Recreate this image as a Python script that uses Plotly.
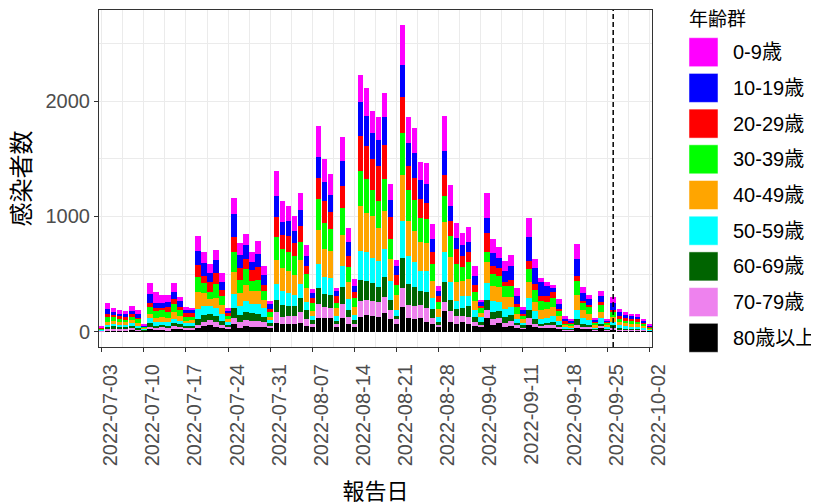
import pandas as pd
import plotly.graph_objects as go

# ---------------- data ----------------
dates = pd.date_range("2022-07-03", periods=92, freq="D")

groups = ["0-9歳", "10-19歳", "20-29歳", "30-39歳", "40-49歳",
          "50-59歳", "60-69歳", "70-79歳", "80歳以上"]
colors = ["#FF00FF", "#0000FF", "#FF0000", "#00FF00", "#FFA500",
          "#00FFFF", "#006400", "#EE82EE", "#000000"]

age0_9 = [5, 57, 34, 34, 26, 40, 34, 10, 100, 89,
          66, 57, 75, 40, 23, 9, 129, 95, 72, 86,
          75, 14, 138, 103, 101, 92, 115, 72, 32, 216,
          181, 132, 126, 144, 101, 37, 267, 195, 181, 29,
          210, 118, 57, 230, 239, 190, 195, 201, 138, 49,
          345, 230, 216, 149, 178, 124, 43, 307, 175, 124,
          106, 132, 86, 20, 216, 121, 92, 80, 95, 63,
          26, 165, 86, 37, 34, 29, 43, 23, 14, 129,
          49, 37, 11, 43, 11, 55, 29, 23, 17, 14,
          11, 6]
age10_19 = [5, 43, 26, 20, 26, 29, 34, 8, 78, 43,
            43, 49, 57, 46, 29, 37, 121, 115, 80, 115,
            72, 29, 195, 115, 115, 72, 115, 92, 40, 181,
            115, 124, 103, 141, 83, 40, 184, 164, 149, 43,
            210, 121, 57, 296, 259, 230, 230, 244, 149, 78,
            273, 195, 216, 172, 167, 115, 43, 201, 135, 101,
            95, 86, 80, 29, 135, 115, 95, 101, 124, 72,
            29, 210, 135, 115, 86, 35, 43, 23, 17, 144,
            66, 52, 20, 52, 14, 57, 37, 32, 29, 26,
            17, 9]
age20_29 = [6, 29, 23, 17, 17, 23, 9, 6, 32, 29,
            23, 37, 49, 29, 29, 29, 101, 60, 86, 100,
            49, 17, 135, 101, 92, 95, 115, 52, 29, 172,
            121, 144, 115, 138, 66, 43, 181, 193, 144, 57,
            198, 95, 52, 302, 287, 270, 302, 296, 190, 86,
            316, 213, 187, 158, 135, 106, 52, 181, 129, 129,
            92, 86, 57, 23, 167, 72, 63, 29, 49, 29,
            20, 66, 49, 49, 52, 52, 23, 14, 11, 43,
            20, 20, 11, 29, 11, 23, 20, 17, 14, 17,
            11, 6]
age30_39 = [6, 37, 29, 29, 23, 29, 34, 9, 66, 57,
            63, 52, 66, 55, 34, 29, 138, 90, 63, 115,
            80, 29, 172, 112, 132, 86, 95, 72, 37, 201,
            167, 164, 161, 158, 124, 72, 267, 224, 187, 46,
            233, 129, 78, 307, 293, 224, 230, 279, 178, 89,
            359, 267, 273, 210, 210, 144, 63, 230, 178, 158,
            124, 149, 78, 40, 86, 101, 101, 101, 101, 57,
            29, 115, 103, 80, 57, 78, 43, 20, 17, 124,
            66, 57, 20, 57, 17, 43, 29, 26, 26, 23,
            17, 9]
age40_49 = [5, 29, 29, 26, 26, 29, 23, 8, 34, 37,
            37, 37, 63, 37, 23, 29, 144, 110, 60, 86,
            78, 29, 187, 115, 144, 106, 106, 78, 29, 207,
            198, 190, 178, 207, 121, 43, 293, 244, 239, 69,
            270, 149, 66, 388, 339, 368, 287, 325, 187, 126,
            402, 307, 267, 250, 244, 152, 72, 259, 224, 158,
            129, 149, 78, 37, 178, 132, 129, 101, 86, 43,
            32, 138, 86, 72, 80, 78, 40, 14, 14, 126,
            66, 57, 17, 52, 14, 43, 29, 26, 26, 26,
            17, 9]
age50_59 = [5, 20, 20, 17, 17, 20, 17, 7, 40, 34,
            29, 34, 34, 29, 20, 20, 86, 75, 72, 72,
            57, 23, 124, 80, 98, 80, 95, 72, 29, 144,
            124, 112, 95, 118, 72, 37, 210, 144, 149, 43,
            181, 92, 49, 250, 250, 213, 224, 250, 164, 57,
            325, 239, 221, 172, 181, 98, 43, 259, 152, 72,
            109, 86, 66, 43, 144, 98, 80, 72, 66, 37,
            20, 101, 63, 43, 40, 52, 32, 14, 11, 86,
            49, 37, 14, 49, 14, 29, 20, 17, 14, 14,
            11, 7]
age60_69 = [4, 14, 17, 17, 14, 17, 14, 6, 32, 20,
            20, 20, 29, 26, 17, 17, 52, 60, 50, 57,
            37, 20, 86, 63, 66, 72, 57, 49, 23, 106,
            101, 86, 83, 121, 78, 37, 144, 115, 115, 23,
            149, 66, 29, 181, 164, 152, 135, 172, 86, 29,
            259, 181, 164, 124, 144, 75, 23, 172, 101, 63,
            63, 95, 43, 23, 95, 57, 57, 49, 57, 20,
            14, 72, 43, 20, 23, 29, 20, 9, 9, 46,
            29, 20, 9, 23, 9, 20, 11, 9, 9, 9,
            6, 4]
age70_79 = [4, 14, 14, 14, 14, 20, 12, 6, 20, 14,
            20, 17, 26, 20, 20, 17, 26, 40, 40, 43,
            29, 20, 57, 46, 49, 49, 49, 37, 20, 95,
            63, 72, 72, 101, 60, 26, 121, 101, 86, 29,
            118, 63, 29, 144, 138, 135, 129, 135, 80, 37,
            164, 115, 109, 115, 118, 49, 20, 86, 92, 66,
            57, 57, 34, 20, 66, 55, 43, 37, 40, 20,
            14, 57, 29, 17, 20, 23, 14, 6, 9, 26,
            14, 14, 6, 14, 9, 14, 9, 9, 9, 9,
            6, 4]
age80p = [3, 10, 14, 12, 14, 14, 10, 6, 23, 17,
          17, 14, 20, 20, 15, 17, 32, 48, 60, 37,
          29, 20, 63, 34, 52, 43, 43, 43, 29, 72,
          66, 66, 66, 72, 49, 37, 115, 115, 115, 40,
          118, 63, 40, 126, 141, 135, 126, 164, 112, 69,
          213, 118, 112, 118, 83, 69, 40, 175, 83, 69,
          83, 69, 49, 40, 118, 55, 75, 40, 49, 35,
          26, 60, 40, 32, 35, 32, 26, 12, 10, 34,
          26, 26, 10, 32, 13, 20, 14, 11, 11, 11,
          10, 6]

series = [age0_9, age10_19, age20_29, age30_39, age40_49,
          age50_59, age60_69, age70_79, age80p]

x_range = ["2022-07-02 13:12", "2022-10-02 10:48"]
y_range = [-133, 2790]
x_ticks = pd.date_range("2022-07-03", "2022-10-02", freq="7D")
y_ticks = [0, 1000, 2000]
vline_date = "2022-09-26"

# ---------------- figure ----------------
FONT = "Liberation Sans, Arial, Noto Sans CJK JP, sans-serif"
OFF = 8                      # page body margin of the html page
W, H = 819 - OFF, 504 - OFF
PL, PR, PT, PB = 99 - OFF, 652 - OFF, 10 - OFF, 347 - OFF  # panel in figure px

fig = go.Figure()
for name, col, vals in reversed(list(zip(groups, colors, series))):
    fig.add_trace(go.Bar(x=dates, y=vals, name=name, marker_color=col,
                         marker_line_width=0, showlegend=False))

fig.update_layout(
    width=W, height=H, barmode="stack", bargap=0.1,
    plot_bgcolor="white", paper_bgcolor="white",
    margin=dict(l=PL, r=W - PR, t=PT, b=H - PB, autoexpand=False),
    font=dict(family=FONT, size=20, color="#4D4D4D"),
)

fig.update_xaxes(
    type="date", range=x_range,
    tickvals=x_ticks, tickformat="%Y-%m-%d", tickangle=-90,
    ticklabelshift=9, ticklabelstandoff=4,
    ticks="outside", ticklen=4, tickcolor="#333333", tickwidth=1,
    showline=True, linecolor="#333333", linewidth=1, mirror=True,
    showgrid=True, gridcolor="#EBEBEB", gridwidth=1,
    minor=dict(dtick=3.5 * 86400000, tick0="2022-07-03", showgrid=True,
               gridcolor="#EBEBEB", gridwidth=0.6),
    zeroline=False,
    title=dict(text="報告日", font=dict(size=22, color="black"), standoff=24),
)
fig.update_yaxes(
    range=y_range, tickvals=y_ticks,
    ticks="outside", ticklen=4, tickcolor="#333333", tickwidth=1,
    showline=True, linecolor="#333333", linewidth=1, mirror=True,
    showgrid=True, gridcolor="#EBEBEB", gridwidth=1,
    minor=dict(dtick=500, showgrid=True, gridcolor="#EBEBEB", gridwidth=0.6),
    zeroline=False,
    title=dict(text="感染者数", font=dict(size=24, color="black"), standoff=10),
)

# dashed reference line
fig.add_shape(type="line", x0=vline_date, x1=vline_date, xref="x",
              y0=0, y1=1, yref="paper", layer="above",
              line=dict(color="black", width=1.5, dash="5px,3px"))

# manual legend (large square keys like ggplot)
def px_x(p):
    return (p - OFF - PL) / (PR - PL)

def px_y(p):
    return (PB - (p - OFF)) / (PB - PT)

fig.add_annotation(text="年齢群", xref="paper", yref="paper",
                   x=px_x(687), y=px_y(19.5), xanchor="left", yanchor="middle",
                   showarrow=False, font=dict(size=19, color="black"))
KEY_X0, KEY_SIZE, ROW0, ROW_STEP = 689, 29, 37.7, 35.7
for i, (name, col) in enumerate(zip(groups, colors)):
    top = ROW0 + ROW_STEP * i
    fig.add_shape(type="rect", xref="paper", yref="paper",
                  x0=px_x(KEY_X0), x1=px_x(KEY_X0 + KEY_SIZE),
                  y0=px_y(top + KEY_SIZE), y1=px_y(top),
                  fillcolor=col, line=dict(color="white", width=0.5))
    fig.add_annotation(text=name, xref="paper", yref="paper",
                       x=px_x(731), y=px_y(top + KEY_SIZE / 2),
                       xanchor="left", yanchor="middle", showarrow=False,
                       font=dict(size=20, color="black"))

fig.write_html("out.html")
